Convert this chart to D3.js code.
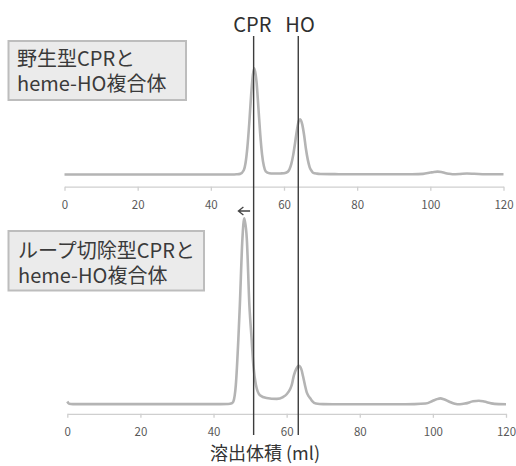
<!DOCTYPE html>
<html><head><meta charset="utf-8">
<script src="https://cdn.jsdelivr.net/npm/d3@7"></script>
<style>html,body{margin:0;padding:0;background:#fff;}svg{display:block;}</style>
</head><body>
<div id="chart"></div>
<script>
// ---- data ----
const xTicks = [0, 20, 40, 60, 80, 100, 120];
// top chromatogram: wild-type CPR + heme-HO complex (elution volume ml, relative absorbance)
const wtVolume = [0,10,20,30,40,46,47,48,49,49.5,50,50.5,51,51.5,51.9,52.5,53,53.5,54,54.5,55,56,57,58,59,60,61,61.5,62,62.5,63,63.5,64,64.4,65,65.5,66,66.5,67,67.5,68,69,70,75,80,90,95,98,100,101,102,103,104,105,106,108,110,112,115,120];
const wtSignal = [0,0,0,0,0,0,0.2,0.6,4,11,26,48,74,94,100,87,63,38,19,8,3,1.2,0.9,0.9,1,1.2,2.5,5,10,18,29,41,50,52,47,37,24,14,7,3.6,1.5,0.8,0.5,0.3,0.2,0.2,0.3,0.6,1.8,2.4,2.7,2.3,1.4,0.7,0.3,0.5,0.9,0.7,0.3,0.2];
// bottom chromatogram: loop-deleted CPR + heme-HO complex
const ldVolume = [0,0.5,1.5,10,20,30,40,44,45,45.4,46.1,46.8,47.2,47.9,48.4,49.1,49.8,50.4,50.9,51.6,52.7,54.5,57.3,59,60,61,61.4,62,62.6,63.3,64,64.5,65,65.5,66,66.4,67,68,70,80,90,95,98,100,101,102.1,103,104.5,106,107.4,109,111,112.6,114,116,118,120];
const ldSignal = [1.6,0.4,0.2,0.2,0.2,0.2,0.2,0.3,0.7,1.5,10.5,35.6,53.6,89,100,89,53.6,35.6,21,10.5,5,3.5,3,4,5.5,8.5,10.5,15.8,19,20.8,19,15,10.5,6.5,4.5,3.5,1.8,0.5,0.2,0.1,0.1,0.2,0.5,2,2.8,3.3,2.8,1.5,0.4,0.1,0.6,1.7,2.0,1.6,0.6,0.2,0.1];
const markerNames = ["CPR", "HO"];
const markerVolume = [51.7, 63.9];
const boxLines1 = ["野生型CPRと", "heme-HO複合体"];
const boxLines2 = ["ループ切除型CPRと", "heme-HO複合体"];
const axisTitle = "溶出体積 (ml)";
const shiftArrow = [50.0, 46.8]; // from -> to (ml)

// ---- drawing ----
const W = 516, H = 466;
const svg = d3.select("#chart").append("svg").attr("width", W).attr("height", H);
const FONT = "'Noto Sans CJK JP', 'Noto Sans', sans-serif";

const xTop = d3.scaleLinear().domain([0,120]).range([64.5, 503.5]);
const yTop = d3.scaleLinear().domain([0,100]).range([174.5, 68.3]);
const xBot = d3.scaleLinear().domain([0,120]).range([67.3, 506]);
const yBot = d3.scaleLinear().domain([0,100]).range([404.5, 218.3]);

function drawAxis(x, yPos) {
  const g = svg.append("g").attr("transform", `translate(0,${yPos})`)
    .call(d3.axisBottom(x).tickValues(xTicks).tickSize(4).tickSizeOuter(0));
  g.select(".domain").attr("stroke", "#cfcfcf").attr("stroke-width", 1.3);
  g.selectAll(".tick line").attr("stroke", "#cfcfcf").attr("stroke-width", 1.3);
  g.selectAll(".tick text").attr("y", 18.3).attr("dy", "0.35em")
    .attr("fill", "#595959").style("font-family", FONT).style("font-size", "11.5px");
}
drawAxis(xTop, 186.7);
drawAxis(xBot, 413.8);

function drawCurve(xs, ys, x, y) {
  const pts = xs.map((v, i) => [v, ys[i]]);
  svg.append("path").datum(pts)
    .attr("fill", "none").attr("stroke", "#b4b4b4").attr("stroke-width", 2.6)
    .attr("stroke-linejoin", "round")
    .attr("d", d3.line().x(d => x(d[0])).y(d => y(d[1])).curve(d3.curveMonotoneX));
}
drawCurve(wtVolume, wtSignal, xTop, yTop);
drawCurve(ldVolume, ldSignal, xBot, yBot);

// marker lines
markerVolume.forEach((v, i) => {
  svg.append("line").attr("x1", xTop(v)).attr("x2", xTop(v)).attr("y1", 36).attr("y2", 435)
    .attr("stroke", "#3c3c3c").attr("stroke-width", 1.4);
});
const labelOffsets = [-1.3, 1.8];
markerNames.forEach((n, i) => {
  svg.append("text").attr("x", xTop(markerVolume[i]) + labelOffsets[i]).attr("y", 32.3)
    .attr("text-anchor", "middle").attr("fill", "#2f2f2f")
    .style("font-family", FONT).style("font-size", "20px").text(n);
});

// arrow
{
  const ax1 = xBot(shiftArrow[0]), ax2 = xBot(shiftArrow[1]), ay = 211;
  svg.append("path")
    .attr("d", `M${ax1},${ay}L${ax2},${ay}M${ax2+5},${ay-4}L${ax2},${ay}L${ax2+5},${ay+4}`)
    .attr("fill", "none").attr("stroke", "#444").attr("stroke-width", 1.3);
}

// label boxes
function drawBox(x, y, w, h, lines, base, x0) {
  svg.append("rect").attr("x", x).attr("y", y).attr("width", w).attr("height", h)
    .attr("fill", "#ebebeb").attr("stroke", "#bdbdbd").attr("stroke-width", 2);
  const t = svg.append("text").attr("x", x0).attr("y", base)
    .attr("fill", "#3a3a3a").style("font-family", FONT).style("font-size", "20px");
  lines.forEach((s, i) => {
    t.append("tspan").attr("x", x0).attr("y", base + i * 25).text(s);
  });
}
drawBox(8.5, 41, 177.5, 59, boxLines1, 66, 17);
drawBox(8.5, 231, 195.5, 59.5, boxLines2, 257.5, 18);

// axis title
svg.append("text").attr("x", 265).attr("y", 459.5).attr("text-anchor", "middle")
  .attr("fill", "#333").style("font-family", FONT).style("font-size", "18px").text(axisTitle);
</script>
</body></html>
